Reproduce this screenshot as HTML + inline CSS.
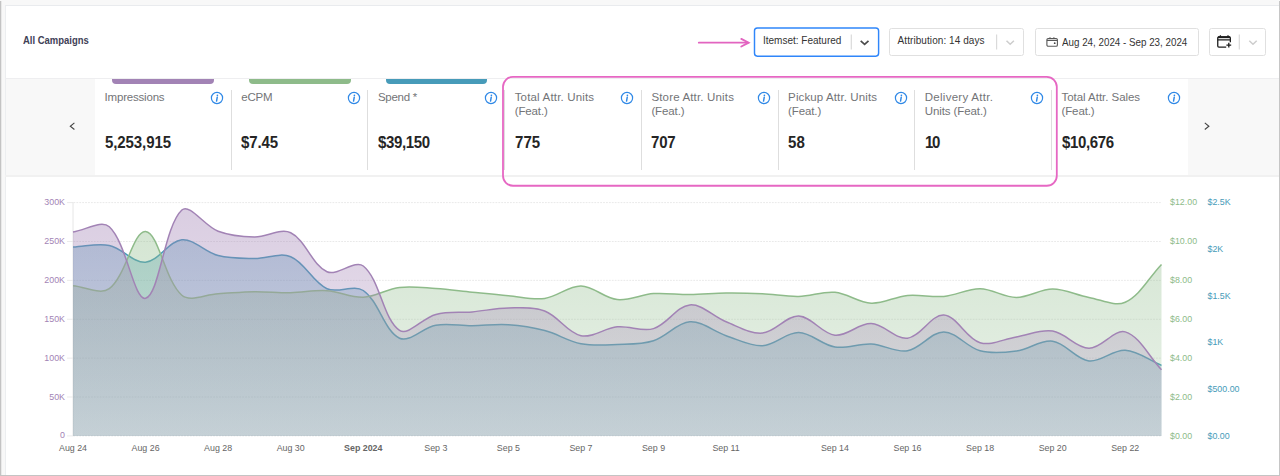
<!DOCTYPE html>
<html><head><meta charset="utf-8"><title>All Campaigns</title>
<style>
*{box-sizing:border-box;margin:0;padding:0}
html,body{width:1280px;height:476px;overflow:hidden;background:#f8f8f8;font-family:"Liberation Sans",sans-serif;}
#root{position:relative;width:1280px;height:476px;overflow:hidden;background:#f8f8f8}
#panel{position:absolute;left:5px;top:5px;width:1274px;height:470px;background:#fff;border-top:1px solid #e9ebee;border-left:1px solid #eceef0}
#frameL{position:absolute;left:0;top:1px;width:1px;height:475px;background:#c3c3c3}
#frameL2{position:absolute;left:1px;top:1px;width:1px;height:475px;background:#e9e9e9}
#frameR{position:absolute;left:1279px;top:1px;width:1px;height:475px;background:#c6c6c6}
#frameB{position:absolute;left:0;top:475px;width:1280px;height:1px;background:#c4c4c4}
#hdrline{position:absolute;left:5px;top:78px;width:1274px;height:1px;background:#eeeef0}
#mrow{position:absolute;left:6px;top:79px;width:1273px;height:96px;background:#f8f8f8}
#mwhite{position:absolute;left:94.6px;top:79px;width:1093.6px;height:96px;background:#fff}
#mline{position:absolute;left:5px;top:175px;width:1274px;height:2px;background:#f1f1f1}
#title{position:absolute;left:23.3px;top:35.1px;font-size:10px;line-height:12px;font-weight:bold;color:#414156;white-space:nowrap;transform:scaleX(0.948);transform-origin:0 0}
.cell{position:absolute;top:79px;width:136.7px;height:97px}
.bar{position:absolute;left:17.5px;top:0;width:101.8px;height:4.8px;border-radius:0 0 4px 4px}
.lbl{position:absolute;left:10px;top:10.6px;font-size:11.5px;line-height:14.2px;color:#737477;white-space:nowrap}
.val{position:absolute;left:10px;top:53.9px;font-size:16px;font-weight:bold;color:#252525;line-height:20px;white-space:nowrap;transform:scaleX(0.9375);transform-origin:0 0}
.info{position:absolute;left:115.5px;top:11.75px}
.sep{position:absolute;left:136.2px;top:11px;width:1px;height:80px;background:#dedede}
.box{position:absolute;top:28px;height:28px;border:1px solid #e0e0e0;border-radius:2.5px;background:#fff}
.box .t{position:absolute;top:7px;font-size:10px;color:#333;white-space:nowrap;line-height:12px}
.vs{position:absolute;top:6px;width:1px;height:15px;background:#d4d4d4}
</style></head><body><div id="root">
<div id="panel"></div>
<div id="hdrline"></div>
<div id="mrow"></div><div id="mwhite"></div><div id="mline"></div>
<div id="title">All Campaigns</div>
<!-- controls -->
<div class="box" style="left:889px;width:135px"><div class="t" style="left:7.6px;top:6.2px;letter-spacing:0.07px">Attribution: 14 days</div></div>
<div class="box" style="left:1035px;width:164px"><div class="t" style="left:26px;top:7px;font-size:10.5px;transform:scaleX(0.933);transform-origin:0 0">Aug 24, 2024 - Sep 23, 2024</div></div>
<div class="box" style="left:1209px;width:57px"></div>
<svg style="position:absolute;left:0;top:0" width="1280" height="80" viewBox="0 0 1280 80">
<rect x="754.5" y="27.95" width="124.1" height="28.2" rx="2.8" fill="#fff" stroke="#2f86fa" stroke-width="1.45"/>
<path d="M851.3 34.4V49.6M996.6 34.4V49.6M1239.3 34.4V49.6" stroke="#dadada" stroke-width="1.2" fill="none"/>
<path d="M860.7 40.9L864.6 44.4L868.5 40.9" fill="none" stroke="#4c4c4c" stroke-width="1.7"/>
<path d="M1006.5 40.7L1010.2 44.3L1013.9 40.7M1249.3 40.7L1253 44.3L1256.7 40.7" fill="none" stroke="#cdcdcd" stroke-width="1.5"/>
<g transform="translate(1046 36)"><rect x="0.9" y="2.5" width="10.5" height="7.8" rx="1.3" fill="none" stroke="#585858" stroke-width="1.1"/><path d="M0.9 4.4H11.4M4 1.2V2.6M7.9 1.2V2.6" stroke="#585858" stroke-width="1.1" fill="none"/><circle cx="8.7" cy="7.2" r="0.9" fill="#444"/></g>
<g transform="translate(1216 34)" fill="none" stroke="#1e1e1e"><path d="M14.35 8.3V4a1.1 1.1 0 0 0-1.1-1.1H2.85a1.1 1.1 0 0 0-1.1 1.1V12a1.1 1.1 0 0 0 1.1 1.1H10.2" stroke-width="1.3"/><path d="M2 3.2H14.1" stroke-width="1.9"/><path d="M1.75 5.8H14.35M4.4 1.3V4M12 1.3V4" stroke-width="1.3"/><path d="M12.8 8.7V13.5M10.4 11.1H15.2" stroke-width="1.3"/></g>
</svg>
<div id="itemtxt" style="position:absolute;left:763px;top:35.1px;font-size:10px;color:#333;white-space:nowrap;line-height:12px">Itemset: Featured</div>
<!-- arrow -->
<svg style="position:absolute;left:690px;top:30px" width="70" height="26" viewBox="690 30 70 26"><path d="M698.8 42.7H748" stroke="#e264c0" stroke-width="1.8" fill="none" stroke-linecap="round"/><path d="M741.3 38.9L748.6 42.7L741.3 46.5" stroke="#e264c0" stroke-width="1.9" fill="none" stroke-linejoin="miter" stroke-linecap="round"/></svg>
<!-- nav chevrons -->
<svg style="position:absolute;left:66px;top:120px" width="12" height="12" viewBox="0 0 12 12"><path d="M8.4 2.9L4.3 6.2L8.4 9.5" fill="none" stroke="#444" stroke-width="1.1"/></svg>
<svg style="position:absolute;left:1201px;top:120px" width="12" height="12" viewBox="0 0 12 12"><path d="M3.8 2.9L7.9 6.2L3.8 9.5" fill="none" stroke="#444" stroke-width="1.1"/></svg>
<div class="cell" style="left:94.6px"><div class="bar" style="background:#a283b5"></div><div class="lbl"><span style="letter-spacing:-0.200px">Impressions</span></div><svg class="info" width="14" height="14" viewBox="0 0 14 14"><circle cx="7" cy="7" r="5.6" fill="none" stroke="#2f88e6" stroke-width="1.2"/><circle cx="7.4" cy="4.3" r="0.85" fill="#2f88e6"/><path d="M7.25 6.2L6.55 10.1" stroke="#2f88e6" stroke-width="1.45" stroke-linecap="round" fill="none"/></svg><div class="val"><span style="letter-spacing:-0.100px">5,253,915</span></div><div class="sep"></div></div>
<div class="cell" style="left:231.3px"><div class="bar" style="background:#8ebb8a"></div><div class="lbl"><span style="letter-spacing:-0.190px">eCPM</span></div><svg class="info" width="14" height="14" viewBox="0 0 14 14"><circle cx="7" cy="7" r="5.6" fill="none" stroke="#2f88e6" stroke-width="1.2"/><circle cx="7.4" cy="4.3" r="0.85" fill="#2f88e6"/><path d="M7.25 6.2L6.55 10.1" stroke="#2f88e6" stroke-width="1.45" stroke-linecap="round" fill="none"/></svg><div class="val"><span style="letter-spacing:-0.150px">$7.45</span></div><div class="sep"></div></div>
<div class="cell" style="left:368.0px"><div class="bar" style="background:#479bb9"></div><div class="lbl"><span style="letter-spacing:-0.300px">Spend *</span></div><svg class="info" width="14" height="14" viewBox="0 0 14 14"><circle cx="7" cy="7" r="5.6" fill="none" stroke="#2f88e6" stroke-width="1.2"/><circle cx="7.4" cy="4.3" r="0.85" fill="#2f88e6"/><path d="M7.25 6.2L6.55 10.1" stroke="#2f88e6" stroke-width="1.45" stroke-linecap="round" fill="none"/></svg><div class="val"><span style="letter-spacing:-0.400px">$39,150</span></div><div class="sep"></div></div>
<div class="cell" style="left:504.7px"><div class="lbl"><span style="letter-spacing:0.170px">Total Attr. Units</span><br><span style="letter-spacing:-0.120px">(Feat.)</span></div><svg class="info" width="14" height="14" viewBox="0 0 14 14"><circle cx="7" cy="7" r="5.6" fill="none" stroke="#2f88e6" stroke-width="1.2"/><circle cx="7.4" cy="4.3" r="0.85" fill="#2f88e6"/><path d="M7.25 6.2L6.55 10.1" stroke="#2f88e6" stroke-width="1.45" stroke-linecap="round" fill="none"/></svg><div class="val"><span style="letter-spacing:0.060px">775</span></div><div class="sep"></div></div>
<div class="cell" style="left:641.4px"><div class="lbl"><span style="letter-spacing:0.165px">Store Attr. Units</span><br><span style="letter-spacing:-0.120px">(Feat.)</span></div><svg class="info" width="14" height="14" viewBox="0 0 14 14"><circle cx="7" cy="7" r="5.6" fill="none" stroke="#2f88e6" stroke-width="1.2"/><circle cx="7.4" cy="4.3" r="0.85" fill="#2f88e6"/><path d="M7.25 6.2L6.55 10.1" stroke="#2f88e6" stroke-width="1.45" stroke-linecap="round" fill="none"/></svg><div class="val"><span style="letter-spacing:-0.170px">707</span></div><div class="sep"></div></div>
<div class="cell" style="left:778.1px"><div class="lbl"><span style="letter-spacing:0.115px">Pickup Attr. Units</span><br><span style="letter-spacing:-0.120px">(Feat.)</span></div><svg class="info" width="14" height="14" viewBox="0 0 14 14"><circle cx="7" cy="7" r="5.6" fill="none" stroke="#2f88e6" stroke-width="1.2"/><circle cx="7.4" cy="4.3" r="0.85" fill="#2f88e6"/><path d="M7.25 6.2L6.55 10.1" stroke="#2f88e6" stroke-width="1.45" stroke-linecap="round" fill="none"/></svg><div class="val"><span style="letter-spacing:0.200px">58</span></div><div class="sep"></div></div>
<div class="cell" style="left:914.8px"><div class="lbl"><span style="letter-spacing:0.268px">Delivery Attr.</span><br><span style="letter-spacing:-0.100px">Units (Feat.)</span></div><svg class="info" width="14" height="14" viewBox="0 0 14 14"><circle cx="7" cy="7" r="5.6" fill="none" stroke="#2f88e6" stroke-width="1.2"/><circle cx="7.4" cy="4.3" r="0.85" fill="#2f88e6"/><path d="M7.25 6.2L6.55 10.1" stroke="#2f88e6" stroke-width="1.45" stroke-linecap="round" fill="none"/></svg><div class="val"><span style="letter-spacing:-1.500px">10</span></div><div class="sep"></div></div>
<div class="cell" style="left:1051.5px"><div class="lbl"><span style="letter-spacing:-0.040px">Total Attr. Sales</span><br><span style="letter-spacing:-0.120px">(Feat.)</span></div><svg class="info" width="14" height="14" viewBox="0 0 14 14"><circle cx="7" cy="7" r="5.6" fill="none" stroke="#2f88e6" stroke-width="1.2"/><circle cx="7.4" cy="4.3" r="0.85" fill="#2f88e6"/><path d="M7.25 6.2L6.55 10.1" stroke="#2f88e6" stroke-width="1.45" stroke-linecap="round" fill="none"/></svg><div class="val"><span style="letter-spacing:-0.360px">$10,676</span></div></div>
<svg width="1280" height="476" viewBox="0 0 1280 476" style="position:absolute;left:0;top:0">
<defs>
<linearGradient id="gp" x1="0" y1="202.6" x2="0" y2="435.9" gradientUnits="userSpaceOnUse"><stop offset="0" stop-color="#a283b5" stop-opacity="0.405"/><stop offset="1" stop-color="#a283b5" stop-opacity="0.19"/></linearGradient>
<linearGradient id="gg" x1="0" y1="202.6" x2="0" y2="435.9" gradientUnits="userSpaceOnUse"><stop offset="0" stop-color="#8ebb8a" stop-opacity="0.405"/><stop offset="1" stop-color="#8ebb8a" stop-opacity="0.19"/></linearGradient>
<linearGradient id="gb" x1="0" y1="202.6" x2="0" y2="435.9" gradientUnits="userSpaceOnUse"><stop offset="0" stop-color="#479bb9" stop-opacity="0.405"/><stop offset="1" stop-color="#479bb9" stop-opacity="0.19"/></linearGradient>
</defs>
<line x1="73.5" x2="1161.5" y1="202.60" y2="202.60" stroke="#e9e9e9" stroke-width="1" stroke-dasharray="1.8 1.11"/>
<line x1="67" x2="73.5" y1="202.60" y2="202.60" stroke="#ebebeb" stroke-width="1"/>
<line x1="73.5" x2="1161.5" y1="241.48" y2="241.48" stroke="#e9e9e9" stroke-width="1" stroke-dasharray="1.8 1.11"/>
<line x1="67" x2="73.5" y1="241.48" y2="241.48" stroke="#ebebeb" stroke-width="1"/>
<line x1="73.5" x2="1161.5" y1="280.37" y2="280.37" stroke="#e9e9e9" stroke-width="1" stroke-dasharray="1.8 1.11"/>
<line x1="67" x2="73.5" y1="280.37" y2="280.37" stroke="#ebebeb" stroke-width="1"/>
<line x1="73.5" x2="1161.5" y1="319.25" y2="319.25" stroke="#e9e9e9" stroke-width="1" stroke-dasharray="1.8 1.11"/>
<line x1="67" x2="73.5" y1="319.25" y2="319.25" stroke="#ebebeb" stroke-width="1"/>
<line x1="73.5" x2="1161.5" y1="358.13" y2="358.13" stroke="#e9e9e9" stroke-width="1" stroke-dasharray="1.8 1.11"/>
<line x1="67" x2="73.5" y1="358.13" y2="358.13" stroke="#ebebeb" stroke-width="1"/>
<line x1="73.5" x2="1161.5" y1="397.02" y2="397.02" stroke="#e9e9e9" stroke-width="1" stroke-dasharray="1.8 1.11"/>
<line x1="67" x2="73.5" y1="397.02" y2="397.02" stroke="#ebebeb" stroke-width="1"/>
<line x1="73.5" x2="1161.5" y1="435.90" y2="435.90" stroke="#e9e9e9" stroke-width="1" stroke-dasharray="1.8 1.11"/>
<line x1="67" x2="73.5" y1="435.90" y2="435.90" stroke="#ebebeb" stroke-width="1"/>
<line x1="73" x2="73" y1="202.6" y2="435.9" stroke="#e6e6e6" stroke-width="1"/>
<path d="M73.00 247.10C85.70 246.50 97.19 242.88 109.28 245.40C122.59 248.17 133.28 263.15 145.57 262.20C158.67 261.19 168.68 241.00 181.85 239.80C194.08 238.69 204.90 252.19 218.13 255.60C230.30 258.74 241.71 258.31 254.42 258.50C267.10 258.69 279.81 252.17 290.70 256.70C305.21 262.74 312.48 281.94 326.98 288.70C337.88 293.77 353.68 283.96 363.27 290.50C379.08 301.29 384.09 330.81 399.55 338.20C409.49 342.95 422.75 327.45 435.83 325.20C448.15 323.08 459.42 325.77 472.12 325.70C484.82 325.63 495.78 323.95 508.40 324.80C521.18 325.66 532.29 327.37 544.68 330.60C557.69 333.99 567.88 341.19 580.97 343.70C593.28 346.06 604.58 345.02 617.25 344.50C629.98 343.97 641.56 344.45 653.53 340.70C666.96 336.50 676.79 322.70 689.82 321.80C702.19 320.95 713.20 331.45 726.10 335.70C738.60 339.82 749.84 346.24 762.38 345.70C775.24 345.15 786.04 332.37 798.67 332.60C811.44 332.83 821.81 344.94 834.95 347.00C847.21 348.93 858.62 343.34 871.23 344.00C884.02 344.67 895.47 352.81 907.52 350.80C920.87 348.57 931.10 331.90 943.80 331.90C956.50 331.90 966.62 347.26 980.08 350.80C992.02 353.94 1003.89 352.65 1016.37 351.00C1029.29 349.29 1040.55 339.55 1052.65 341.20C1065.95 343.01 1075.67 359.24 1088.93 360.90C1101.07 362.42 1112.76 349.53 1125.22 350.30C1138.16 351.10 1148.80 360.12 1161.50 365.40L1161.50 435.90L73.00 435.90Z" fill="url(#gb)" stroke="none"/>
<path d="M73.00 247.10C85.70 246.50 97.19 242.88 109.28 245.40C122.59 248.17 133.28 263.15 145.57 262.20C158.67 261.19 168.68 241.00 181.85 239.80C194.08 238.69 204.90 252.19 218.13 255.60C230.30 258.74 241.71 258.31 254.42 258.50C267.10 258.69 279.81 252.17 290.70 256.70C305.21 262.74 312.48 281.94 326.98 288.70C337.88 293.77 353.68 283.96 363.27 290.50C379.08 301.29 384.09 330.81 399.55 338.20C409.49 342.95 422.75 327.45 435.83 325.20C448.15 323.08 459.42 325.77 472.12 325.70C484.82 325.63 495.78 323.95 508.40 324.80C521.18 325.66 532.29 327.37 544.68 330.60C557.69 333.99 567.88 341.19 580.97 343.70C593.28 346.06 604.58 345.02 617.25 344.50C629.98 343.97 641.56 344.45 653.53 340.70C666.96 336.50 676.79 322.70 689.82 321.80C702.19 320.95 713.20 331.45 726.10 335.70C738.60 339.82 749.84 346.24 762.38 345.70C775.24 345.15 786.04 332.37 798.67 332.60C811.44 332.83 821.81 344.94 834.95 347.00C847.21 348.93 858.62 343.34 871.23 344.00C884.02 344.67 895.47 352.81 907.52 350.80C920.87 348.57 931.10 331.90 943.80 331.90C956.50 331.90 966.62 347.26 980.08 350.80C992.02 353.94 1003.89 352.65 1016.37 351.00C1029.29 349.29 1040.55 339.55 1052.65 341.20C1065.95 343.01 1075.67 359.24 1088.93 360.90C1101.07 362.42 1112.76 349.53 1125.22 350.30C1138.16 351.10 1148.80 360.12 1161.50 365.40" fill="none" stroke="#479bb9" stroke-width="1.5" stroke-linejoin="round"/>
<path d="M73.00 285.70C85.70 286.75 100.40 295.33 109.28 288.70C125.80 276.36 133.37 230.41 145.57 231.50C158.77 232.68 164.87 280.64 181.85 295.20C190.26 302.41 205.44 294.31 218.13 293.70C230.84 293.09 241.71 291.88 254.42 291.70C267.11 291.53 278.01 292.87 290.70 292.70C303.41 292.52 314.38 289.90 326.98 290.70C339.78 291.51 350.69 297.87 363.27 297.30C376.09 296.72 386.63 288.97 399.55 287.40C412.02 285.89 423.16 287.66 435.83 288.50C448.56 289.34 459.41 290.94 472.12 292.20C484.81 293.46 495.69 294.61 508.40 295.70C521.09 296.78 532.32 300.05 544.68 298.40C557.72 296.66 568.33 285.79 580.97 286.00C593.73 286.21 604.22 298.24 617.25 299.60C629.62 300.90 640.75 294.48 653.53 293.60C666.15 292.73 677.12 294.69 689.82 294.60C702.52 294.51 713.40 293.24 726.10 293.10C738.79 292.96 749.70 293.22 762.38 293.80C775.10 294.38 785.99 296.66 798.67 296.40C811.39 296.14 822.48 291.13 834.95 292.30C847.88 293.51 858.40 302.65 871.23 303.20C883.80 303.74 894.68 296.60 907.52 295.40C920.07 294.22 931.23 297.54 943.80 296.40C956.63 295.23 967.42 288.63 980.08 288.80C992.82 288.98 1003.66 297.36 1016.37 297.40C1029.06 297.43 1039.95 289.00 1052.65 289.00C1065.35 289.00 1076.12 295.07 1088.93 297.40C1101.52 299.69 1114.77 306.95 1125.22 302.20C1140.17 295.40 1148.80 277.63 1161.50 264.40L1161.50 435.90L73.00 435.90Z" fill="url(#gg)" stroke="none"/>
<path d="M73.00 285.70C85.70 286.75 100.40 295.33 109.28 288.70C125.80 276.36 133.37 230.41 145.57 231.50C158.77 232.68 164.87 280.64 181.85 295.20C190.26 302.41 205.44 294.31 218.13 293.70C230.84 293.09 241.71 291.88 254.42 291.70C267.11 291.53 278.01 292.87 290.70 292.70C303.41 292.52 314.38 289.90 326.98 290.70C339.78 291.51 350.69 297.87 363.27 297.30C376.09 296.72 386.63 288.97 399.55 287.40C412.02 285.89 423.16 287.66 435.83 288.50C448.56 289.34 459.41 290.94 472.12 292.20C484.81 293.46 495.69 294.61 508.40 295.70C521.09 296.78 532.32 300.05 544.68 298.40C557.72 296.66 568.33 285.79 580.97 286.00C593.73 286.21 604.22 298.24 617.25 299.60C629.62 300.90 640.75 294.48 653.53 293.60C666.15 292.73 677.12 294.69 689.82 294.60C702.52 294.51 713.40 293.24 726.10 293.10C738.79 292.96 749.70 293.22 762.38 293.80C775.10 294.38 785.99 296.66 798.67 296.40C811.39 296.14 822.48 291.13 834.95 292.30C847.88 293.51 858.40 302.65 871.23 303.20C883.80 303.74 894.68 296.60 907.52 295.40C920.07 294.22 931.23 297.54 943.80 296.40C956.63 295.23 967.42 288.63 980.08 288.80C992.82 288.98 1003.66 297.36 1016.37 297.40C1029.06 297.43 1039.95 289.00 1052.65 289.00C1065.35 289.00 1076.12 295.07 1088.93 297.40C1101.52 299.69 1114.77 306.95 1125.22 302.20C1140.17 295.40 1148.80 277.63 1161.50 264.40" fill="none" stroke="#8ebb8a" stroke-width="1.5" stroke-linejoin="round"/>
<path d="M73.00 232.00C85.70 230.18 101.32 219.52 109.28 226.80C126.71 242.72 133.97 300.98 145.57 298.30C159.37 295.10 164.21 226.31 181.85 210.00C189.61 202.82 204.58 226.16 218.13 231.20C229.98 235.61 241.68 236.72 254.42 237.00C267.08 237.28 280.37 227.85 290.70 232.80C305.77 240.03 311.95 264.92 326.98 271.80C337.35 276.54 354.83 259.20 363.27 266.00C380.23 279.67 383.02 319.28 399.55 330.30C408.42 336.22 422.59 317.76 435.83 314.40C447.99 311.32 459.44 313.02 472.12 311.90C484.84 310.78 495.69 308.16 508.40 308.00C521.08 307.84 533.17 306.60 544.68 311.00C558.57 316.30 567.25 332.71 580.97 335.70C592.64 338.24 604.37 328.06 617.25 326.80C629.77 325.57 641.95 332.10 653.53 328.60C667.35 324.43 676.61 306.14 689.82 304.90C702.01 303.76 713.07 316.74 726.10 321.80C738.47 326.61 750.03 334.09 762.38 333.10C775.43 332.06 786.11 315.64 798.67 316.00C811.51 316.37 821.78 333.82 834.95 335.20C847.17 336.48 858.70 323.08 871.23 323.60C884.10 324.13 895.43 339.63 907.52 338.20C920.83 336.62 931.47 314.24 943.80 315.00C956.87 315.81 966.01 338.45 980.08 342.70C991.41 346.12 1003.67 338.93 1016.37 336.90C1029.07 334.87 1040.51 329.19 1052.65 331.10C1065.91 333.18 1076.18 348.16 1088.93 348.30C1101.58 348.44 1114.25 328.67 1125.22 331.90C1139.65 336.16 1148.80 356.47 1161.50 369.70L1161.50 435.90L73.00 435.90Z" fill="url(#gp)" stroke="none"/>
<path d="M73.00 232.00C85.70 230.18 101.32 219.52 109.28 226.80C126.71 242.72 133.97 300.98 145.57 298.30C159.37 295.10 164.21 226.31 181.85 210.00C189.61 202.82 204.58 226.16 218.13 231.20C229.98 235.61 241.68 236.72 254.42 237.00C267.08 237.28 280.37 227.85 290.70 232.80C305.77 240.03 311.95 264.92 326.98 271.80C337.35 276.54 354.83 259.20 363.27 266.00C380.23 279.67 383.02 319.28 399.55 330.30C408.42 336.22 422.59 317.76 435.83 314.40C447.99 311.32 459.44 313.02 472.12 311.90C484.84 310.78 495.69 308.16 508.40 308.00C521.08 307.84 533.17 306.60 544.68 311.00C558.57 316.30 567.25 332.71 580.97 335.70C592.64 338.24 604.37 328.06 617.25 326.80C629.77 325.57 641.95 332.10 653.53 328.60C667.35 324.43 676.61 306.14 689.82 304.90C702.01 303.76 713.07 316.74 726.10 321.80C738.47 326.61 750.03 334.09 762.38 333.10C775.43 332.06 786.11 315.64 798.67 316.00C811.51 316.37 821.78 333.82 834.95 335.20C847.17 336.48 858.70 323.08 871.23 323.60C884.10 324.13 895.43 339.63 907.52 338.20C920.83 336.62 931.47 314.24 943.80 315.00C956.87 315.81 966.01 338.45 980.08 342.70C991.41 346.12 1003.67 338.93 1016.37 336.90C1029.07 334.87 1040.51 329.19 1052.65 331.10C1065.91 333.18 1076.18 348.16 1088.93 348.30C1101.58 348.44 1114.25 328.67 1125.22 331.90C1139.65 336.16 1148.80 356.47 1161.50 369.70" fill="none" stroke="#a283b5" stroke-width="1.5" stroke-linejoin="round"/>
<text x="65" y="202.85" text-anchor="end" fill="#a283b5" font-size="8.85" dominant-baseline="middle">300K</text>
<text x="65" y="241.73" text-anchor="end" fill="#a283b5" font-size="8.85" dominant-baseline="middle">250K</text>
<text x="65" y="280.62" text-anchor="end" fill="#a283b5" font-size="8.85" dominant-baseline="middle">200K</text>
<text x="65" y="319.50" text-anchor="end" fill="#a283b5" font-size="8.85" dominant-baseline="middle">150K</text>
<text x="65" y="358.38" text-anchor="end" fill="#a283b5" font-size="8.85" dominant-baseline="middle">100K</text>
<text x="65" y="397.27" text-anchor="end" fill="#a283b5" font-size="8.85" dominant-baseline="middle">50K</text>
<text x="65" y="436.15" text-anchor="end" fill="#a283b5" font-size="8.85" dominant-baseline="middle">0</text>
<text x="1170" y="202.90" fill="#8ebb8a" font-size="8.85" dominant-baseline="middle">$12.00</text>
<text x="1170" y="241.78" fill="#8ebb8a" font-size="8.85" dominant-baseline="middle">$10.00</text>
<text x="1170" y="280.67" fill="#8ebb8a" font-size="8.85" dominant-baseline="middle">$8.00</text>
<text x="1170" y="319.55" fill="#8ebb8a" font-size="8.85" dominant-baseline="middle">$6.00</text>
<text x="1170" y="358.43" fill="#8ebb8a" font-size="8.85" dominant-baseline="middle">$4.00</text>
<text x="1170" y="397.32" fill="#8ebb8a" font-size="8.85" dominant-baseline="middle">$2.00</text>
<text x="1170" y="436.20" fill="#8ebb8a" font-size="8.85" dominant-baseline="middle">$0.00</text>
<text x="1207.5" y="202.90" fill="#479bb9" font-size="8.85" dominant-baseline="middle">$2.5K</text>
<text x="1207.5" y="249.56" fill="#479bb9" font-size="8.85" dominant-baseline="middle">$2K</text>
<text x="1207.5" y="296.22" fill="#479bb9" font-size="8.85" dominant-baseline="middle">$1.5K</text>
<text x="1207.5" y="342.88" fill="#479bb9" font-size="8.85" dominant-baseline="middle">$1K</text>
<text x="1207.5" y="389.54" fill="#479bb9" font-size="8.85" dominant-baseline="middle">$500.00</text>
<text x="1207.5" y="436.20" fill="#479bb9" font-size="8.85" dominant-baseline="middle">$0.00</text>
<text x="73.00" y="451.1" text-anchor="middle" fill="#666" font-size="8.85">Aug 24</text>
<text x="145.57" y="451.1" text-anchor="middle" fill="#666" font-size="8.85">Aug 26</text>
<text x="218.13" y="451.1" text-anchor="middle" fill="#666" font-size="8.85">Aug 28</text>
<text x="290.70" y="451.1" text-anchor="middle" fill="#666" font-size="8.85">Aug 30</text>
<text x="363.27" y="451.1" text-anchor="middle" fill="#666" font-size="8.85" font-weight="bold">Sep 2024</text>
<text x="435.83" y="451.1" text-anchor="middle" fill="#666" font-size="8.85">Sep 3</text>
<text x="508.40" y="451.1" text-anchor="middle" fill="#666" font-size="8.85">Sep 5</text>
<text x="580.97" y="451.1" text-anchor="middle" fill="#666" font-size="8.85">Sep 7</text>
<text x="653.53" y="451.1" text-anchor="middle" fill="#666" font-size="8.85">Sep 9</text>
<text x="726.10" y="451.1" text-anchor="middle" fill="#666" font-size="8.85">Sep 11</text>
<text x="834.95" y="451.1" text-anchor="middle" fill="#666" font-size="8.85">Sep 14</text>
<text x="907.52" y="451.1" text-anchor="middle" fill="#666" font-size="8.85">Sep 16</text>
<text x="980.08" y="451.1" text-anchor="middle" fill="#666" font-size="8.85">Sep 18</text>
<text x="1052.65" y="451.1" text-anchor="middle" fill="#666" font-size="8.85">Sep 20</text>
<text x="1125.22" y="451.1" text-anchor="middle" fill="#666" font-size="8.85">Sep 22</text>
</svg>
<!-- highlight -->
<svg style="position:absolute;left:0;top:0;pointer-events:none" width="1280" height="476" viewBox="0 0 1280 476"><rect x="503" y="76.85" width="553.8" height="108.9" rx="10" ry="10" fill="none" stroke="#e667c3" stroke-width="1.8"/></svg>
<div id="frameL"></div><div id="frameL2"></div><div id="frameR"></div><div id="frameB"></div>
</div></body></html>
